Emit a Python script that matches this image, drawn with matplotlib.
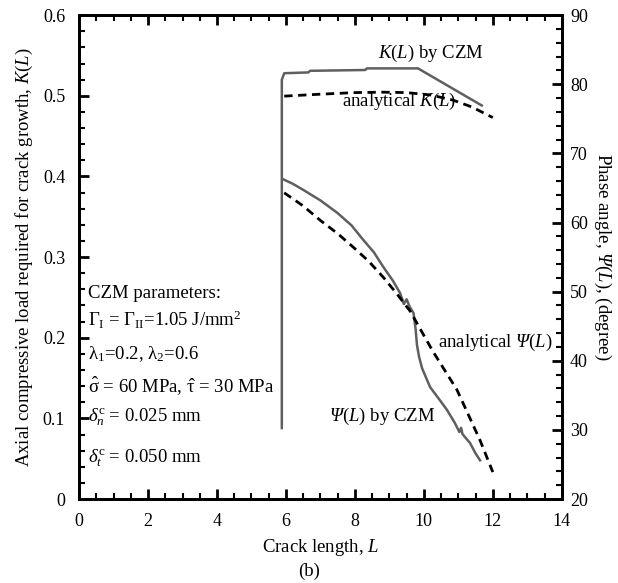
import numpy as np
import matplotlib
matplotlib.use("Agg")
import matplotlib.pyplot as plt
from matplotlib.ticker import MultipleLocator

plt.rcParams["font.family"] = "Liberation Serif"
plt.rcParams["mathtext.fontset"] = "custom"
plt.rcParams["mathtext.rm"] = "Liberation Serif"
plt.rcParams["mathtext.it"] = "Liberation Serif:italic"
plt.rcParams["mathtext.bf"] = "Liberation Serif:bold"
# sf slot used for the italic capital Psi (mathtext keeps Greek capitals upright in 'it')
plt.rcParams["mathtext.sf"] = "Liberation Serif:italic"
plt.rcParams["font.size"] = 13.5

# K(L) by CZM (left axis)
k_czm_x = [5.88, 5.88, 5.95, 6.65, 6.7, 8.3, 8.35, 9.83, 11.68]
k_czm_y = [0.088, 0.520, 0.528, 0.529, 0.531, 0.532, 0.534, 0.534, 0.488]

# analytical K(L)
k_an_x = [5.95, 7.0, 8.0, 8.8, 9.5, 10.2, 10.85, 11.4, 12.0]
k_an_y = [0.4996, 0.502, 0.504, 0.5045, 0.504, 0.501, 0.4946, 0.486, 0.473]

# Psi(L) by CZM (right axis, degree)
psi_czm_x = [5.9, 6.2, 6.51, 7.0, 7.49, 7.9, 8.24, 8.55, 8.82, 9.1, 9.31, 9.42, 9.5,
             9.58, 9.7, 9.76, 9.8, 9.86, 9.95, 10.18, 10.45, 10.67, 10.9, 11.03,
             11.08, 11.12, 11.34, 11.5, 11.63]
psi_czm_y = [66.3, 65.6, 64.7, 63.2, 61.4, 59.6, 57.5, 55.7, 53.6, 51.6, 49.8, 48.2, 48.9,
             47.9, 46.9, 44.6, 42.3, 40.6, 38.9, 36.2, 34.4, 32.9, 31.0, 29.7,
             30.3, 29.4, 28.1, 26.6, 25.6]

# analytical Psi(L)
psi_an_x = [5.95, 6.5, 7.0, 7.5, 7.96, 8.4, 8.82, 9.2, 9.6, 10.27, 10.96, 11.63, 12.0]
psi_an_y = [64.3, 62.4, 60.3, 58.4, 56.4, 54.4, 52.1, 49.8, 47.2, 41.3, 35.8, 28.5, 23.9]

fig = plt.figure(figsize=(6.18, 5.83), dpi=100)
ax = fig.add_axes([0.128, 0.144, 0.781, 0.830])
ax2 = ax.twinx()

gray = "#5f5f5f"
ax.plot(k_czm_x, k_czm_y, color=gray, lw=1.8)
ax.plot(k_an_x, k_an_y, color="black", lw=2.0, ls=(0, (3, 2)))
ax2.plot(psi_czm_x, psi_czm_y, color=gray, lw=1.8)
ax2.plot(psi_an_x, psi_an_y, color="black", lw=2.0, ls=(0, (3, 2)))

ax.set_xlim(0, 14)
ax.set_ylim(0, 0.6)
ax2.set_ylim(20, 90)

ax.xaxis.set_major_locator(MultipleLocator(2))
ax.xaxis.set_minor_locator(MultipleLocator(0.5))
ax.yaxis.set_minor_locator(MultipleLocator(0.02))
ax2.yaxis.set_major_locator(MultipleLocator(10))
ax2.yaxis.set_minor_locator(MultipleLocator(2))

ax.set_yticks([0, 0.1, 0.2, 0.3, 0.4, 0.5, 0.6])
ax.set_yticklabels(["0", "0.1", "0.2", "0.3", "0.4", "0.5", "0.6"])

ax.tick_params(axis="y", which="major", direction="in", length=7, width=2, labelsize=13, pad=10)
ax.tick_params(axis="x", which="major", direction="in", length=7, width=2, top=True,
               labelsize=13, pad=10)
ax.tick_params(axis="both", which="minor", direction="in", length=4, width=1.5, top=True)
ax2.tick_params(axis="y", which="major", direction="in", length=7, width=2, labelsize=13, pad=6)
ax2.tick_params(axis="y", which="minor", direction="in", length=4, width=1.5)
for a in (ax, ax2):
    for s in a.spines.values():
        s.set_linewidth(2)

ax.set_xlabel("Crack length, $L$", fontsize=13.5, labelpad=5)
ax.set_ylabel("Axial compressive load required for crack growth, $K(L)$", fontsize=13.5, labelpad=6)
ax2.set_ylabel(r"Phase angle, $\mathsf{Ψ}(L)$, (degree)", fontsize=13.5, rotation=270,
               labelpad=18)
fig.text(0.5, 0.006, "(b)", ha="center", va="bottom", fontsize=13.5)

ax.text(10.2, 0.553, "$K(L)$ by CZM", ha="center", va="center")
ax.text(9.27, 0.493, "analytical $K(L)$", ha="center", va="center")
ax2.text(12.07, 42.7, r"analytical $\mathsf{Ψ}(L)$", ha="center", va="center")
ax2.text(8.8, 31.9, r"$\mathsf{Ψ}(L)$ by CZM", ha="center", va="center")

params = [
    (0.255, "CZM parameters:"),
    (0.222, r"$\Gamma_{\rm I}$ = $\Gamma_{\rm II}$=1.05 J/mm$^2$"),
    (0.180, r"$\mathrm{λ}_1$=0.2, $\mathrm{λ}_2$=0.6"),
    (0.140, r"$\hat{\mathrm{σ}}$ = 60 MPa, $\hat{\mathrm{τ}}$ = 30 MPa"),
    (0.101, r"$\mathit{δ}_n^{\rm c}$ = 0.025 mm"),
    (0.050, r"$\mathit{δ}_t^{\rm c}$ = 0.050 mm"),
]
for yy, t in params:
    ax.text(0.27, yy, t, ha="left", va="center")

fig.savefig("out.png", dpi=100)
